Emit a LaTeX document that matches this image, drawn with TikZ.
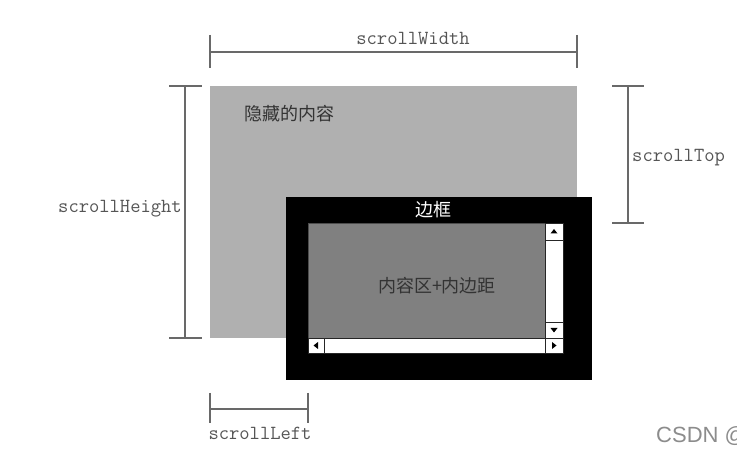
\documentclass[tikz,border=0pt]{standalone}
\usepackage{fontspec}
\usetikzlibrary{calc}
\newfontfamily\cjk{Noto Sans CJK SC}
\newfontfamily\csdnfont{Liberation Sans}
\definecolor{hiddengray}{RGB}{176,176,176}
\definecolor{contentgray}{RGB}{128,128,128}
\definecolor{dimgray}{RGB}{105,105,105}
\definecolor{lblgray}{RGB}{85,85,85}
\begin{document}
\begin{tikzpicture}[x=1pt,y=-1pt,
  dim/.style={draw=dimgray, line width=1.4pt},
  lbl/.style={font=\fontsize{20}{20}\selectfont\ttfamily, text=lblgray, inner sep=0pt},
  cjklbl/.style={font=\fontsize{18}{18}\selectfont\cjk, inner sep=0pt},
  box/.style={anchor=north west, inner sep=0pt, outer sep=0pt},
  btn/.style={box, draw=black!85, fill=white, line width=0.7pt},
  tri/.style={fill=black}
  ]
\useasboundingbox (0,0) rectangle (737,462);
\fill[white] (0,0) rectangle (737,462);

% hidden content area
\node[box, fill=hiddengray, minimum width=367pt, minimum height=252pt] (hidden) at (210,86) {};
\node[cjklbl, text=black!80, anchor=west] (hiddentxt) at (244,114) {隐藏的内容};

% border box
\node[box, fill=black, minimum width=306pt, minimum height=183pt] (border) at (286,197) {};
\node[cjklbl, text=white] (bordertxt) at (433,210) {边框};

% content + padding
\node[box, fill=contentgray, draw=black!70, line width=0.6pt, minimum width=237pt, minimum height=115pt] (content) at (308,223) {};
\node[cjklbl, text=black!80] (contenttxt) at (437,286) {内容区+内边距};

% vertical scrollbar
\node[btn, minimum width=18pt, minimum height=115pt] (vbar) at (545,223) {};
\node[btn, minimum width=18pt, minimum height=17pt] (upbtn) at (545,223) {};
\node[btn, minimum width=18pt, minimum height=16pt] (downbtn) at (545,322) {};
\fill[tri] ($(upbtn.center)+(-3.5,2)$) -- ($(upbtn.center)+(3.5,2)$) -- ($(upbtn.center)+(0,-2.5)$) -- cycle;
\fill[tri] ($(downbtn.center)+(-3.5,-2)$) -- ($(downbtn.center)+(3.5,-2)$) -- ($(downbtn.center)+(0,2.5)$) -- cycle;

% horizontal scrollbar
\node[btn, minimum width=255pt, minimum height=15pt] (hbar) at (308,338) {};
\node[btn, minimum width=16pt, minimum height=15pt] (leftbtn) at (308,338) {};
\node[btn, minimum width=18pt, minimum height=15pt] (rightbtn) at (545,338) {};
\fill[tri] ($(leftbtn.center)+(2,-3.5)$) -- ($(leftbtn.center)+(2,3.5)$) -- ($(leftbtn.center)+(-2.5,0)$) -- cycle;
\fill[tri] ($(rightbtn.center)+(-2,-3.5)$) -- ($(rightbtn.center)+(-2,3.5)$) -- ($(rightbtn.center)+(2.5,0)$) -- cycle;

% scrollWidth
\coordinate (sw1) at (210,52);
\coordinate (sw2) at (577,52);
\draw[dim] (sw1) -- (sw2);
\draw[dim] ($(sw1)+(0,-17)$) -- ($(sw1)+(0,16)$);
\draw[dim] ($(sw2)+(0,-17)$) -- ($(sw2)+(0,16)$);
\node[lbl, anchor=base] (swlbl) at (413,45) {scrollWidth};

% scrollHeight
\coordinate (sh1) at (185,86);
\coordinate (sh2) at (185,338);
\draw[dim] (sh1) -- (sh2);
\draw[dim] ($(sh1)+(-16,0)$) -- ($(sh1)+(17,0)$);
\draw[dim] ($(sh2)+(-16,0)$) -- ($(sh2)+(17,0)$);
\node[lbl, anchor=base east] (shlbl) at (182,213) {scrollHeight};

% scrollTop
\coordinate (st1) at (628,86);
\coordinate (st2) at (628,223);
\draw[dim] (st1) -- (st2);
\draw[dim] ($(st1)+(-16,0)$) -- ($(st1)+(16,0)$);
\draw[dim] ($(st2)+(-16,0)$) -- ($(st2)+(16,0)$);
\node[lbl, anchor=base west] (stlbl) at (632,162) {scrollTop};

% scrollLeft
\coordinate (sl1) at (210,409);
\coordinate (sl2) at (308,409);
\draw[dim] (sl1) -- (sl2);
\draw[dim] ($(sl1)+(0,-16)$) -- ($(sl1)+(0,14)$);
\draw[dim] ($(sl2)+(0,-16)$) -- ($(sl2)+(0,14)$);
\node[lbl, anchor=base] (sllbl) at (260,440) {scrollLeft};

% watermark
\node[font=\fontsize{22}{22}\selectfont\csdnfont, text=black!45, anchor=base west, inner sep=0pt] (csdn) at (656,443) {CSDN @};
\end{tikzpicture}
\end{document}
